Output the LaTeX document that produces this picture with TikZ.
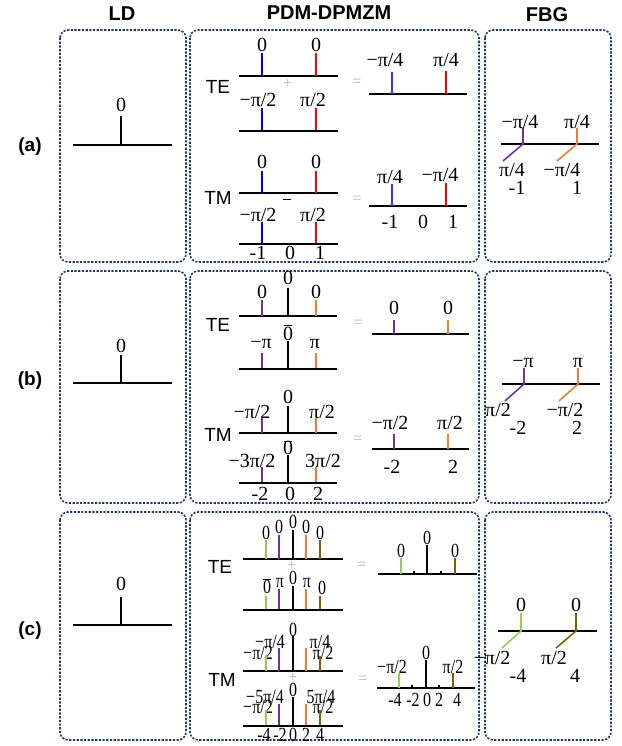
\documentclass[tikz,border=0pt]{standalone}
\usepackage{fontspec}
\setmainfont{Liberation Serif}
\newfontfamily\sansf{Liberation Sans}
\definecolor{cb}{RGB}{0,0,255}
\definecolor{cr}{RGB}{255,0,0}
\definecolor{cp}{RGB}{112,48,160}
\definecolor{co}{RGB}{237,125,49}
\definecolor{cg}{RGB}{146,208,80}
\definecolor{cn}{RGB}{127,96,0}
\definecolor{boxc}{RGB}{31,56,100}
\newcounter{lc}
\newcommand\lbl[3]{\stepcounter{lc}\node[lbl] (L\thelc) at (#1,#2+6.5) {#3};}
\newcommand\lblc[3]{\stepcounter{lc}\node[lbl] (L\thelc) at (#1,#2+6.5) {\scalebox{0.8}[1]{#3}};}
\newcommand\opn[3]{\stepcounter{lc}\node[opstyle] (L\thelc) at (#1,#2) {#3};}
\tikzset{
  panel/.style={draw=boxc, line width=1.6pt, dash pattern=on 2.2pt off 1.5pt, rounded corners=8pt},
  base/.style={line width=1.8pt, black},
  st/.style={line width=1.6pt},
  lbl/.style={font=\fontsize{20}{20}\selectfont, inner sep=0pt, anchor=base},
  opstyle/.style={font=\fontsize{16}{16}\selectfont, inner sep=0pt, text=gray!60},
  head/.style={font=\sansf\bfseries\fontsize{20}{20}\selectfont, inner sep=0pt},
  side/.style={font=\sansf\bfseries\fontsize{19}{19}\selectfont, inner sep=0pt},
  pol/.style={font=\sansf\fontsize{19}{19}\selectfont, inner sep=0pt},
}
\begin{document}
\begin{tikzpicture}[x=1pt,y=-1pt]
\useasboundingbox (0,0) rectangle (621,746);
% headers
\node[head] (hLD) at (122,14) {LD};
\node[head] (hPDM) at (329,13) {PDM-DPMZM};
\node[head] (hFBG) at (547,15) {FBG};
\node[side] (ra) at (30,147) {(a)};
\node[side] (rb) at (30,381) {(b)};
\node[side] (rc) at (30,631) {(c)};
% panels
\foreach \t/\b in {30/262,271/503,512/740}{
  \draw[panel] (60,\t) rectangle (186,\b);
  \draw[panel] (190,\t) rectangle (479,\b);
  \draw[panel] (485,\t) rectangle (611,\b);
}
% LD
\foreach \yb/\ys in {145/116,383/355,625/597}{
  \draw[base] (73,\yb) -- (172,\yb);
  \draw[st] (121,\ys) -- (121,\yb);
}
\lbl{121}{105}{0}\lbl{121}{346}{0}\lbl{121}{584}{0}
% ===== (a) TE
\node[pol] (aTE) at (218,87) {TE};
\draw[base] (239,76) -- (338,76);
\draw[st,cb] (262,53) -- (262,76);
\draw[st,cr] (316,53) -- (316,76);
\lbl{262}{45}{0}\lbl{316}{45}{0}
\opn{288}{84}{+}
\lbl{258}{100}{−π/2}\lbl{313}{100}{π/2}
\draw[st,cb] (262,108) -- (262,131);
\draw[st,cr] (316,108) -- (316,131);
\draw[base] (239,131) -- (338,131);
\opn{357}{83}{=}
\draw[base] (369,94) -- (467,94);
\draw[st,cb!80!white] (392,72) -- (392,94);
\draw[st,cr] (446,71) -- (446,94);
\lbl{385}{60}{−π/4}\lbl{446}{60}{π/4}
% ===== (a) TM
\node[pol] (aTM) at (218,198) {TM};
\draw[base] (239,193) -- (338,193);
\draw[st,cb] (262,171) -- (262,193);
\draw[st,cr] (316,171) -- (316,193);
\lbl{262}{162}{0}\lbl{316}{162}{0}
\draw[line width=1pt] (283,199) -- (291,199);
\lbl{258}{215}{−π/2}\lbl{313}{215}{π/2}
\draw[st,cb] (262,222) -- (262,244);
\draw[st,cr] (316,222) -- (316,244);
\draw[base] (239,244) -- (338,244);
\lbl{258}{253}{-1}\lbl{290}{253}{0}\lbl{320}{253}{1}
\opn{357}{200}{=}
\draw[base] (369,206) -- (467,206);
\draw[st,cb!80!white] (392,184) -- (392,206);
\draw[st,cr] (446,183) -- (446,206);
\lbl{390}{177}{π/4}\lbl{440}{175}{−π/4}
\lbl{390}{222}{-1}\lbl{423}{222}{0}\lbl{453}{222}{1}
% ===== (b) TE
\node[pol] (bTE) at (218,325) {TE};
\draw[base] (239,316) -- (337,316);
\draw[st,cp] (262,300) -- (262,316);
\draw[st] (288,288) -- (288,316);
\draw[st,co] (316,300) -- (316,316);
\lbl{262}{292}{0}\lbl{288}{278}{0}\lbl{316}{292}{0}
\draw[line width=1pt] (284,325) -- (292,325);
\lbl{288}{334}{0}
\lbl{261}{342}{−π}\lbl{315}{342}{π}
\draw[st,cp] (262,353) -- (262,369);
\draw[st] (288,341) -- (288,369);
\draw[st,co] (316,353) -- (316,369);
\draw[base] (239,369) -- (337,369);
\opn{358}{324}{=}
\draw[base] (372,334) -- (469,334);
\draw[st,cp] (394,320) -- (394,334);
\draw[st,co] (448,320) -- (448,334);
\lbl{394}{308}{0}\lbl{448}{308}{0}
% ===== (b) TM
\node[pol] (bTM) at (218,435) {TM};
\draw[base] (239,433) -- (337,433);
\lbl{252}{412}{−π/2}\lbl{288}{397}{0}\lbl{322}{412}{π/2}
\draw[st,cp] (262,418) -- (262,433);
\draw[st] (288,406) -- (288,433);
\draw[st,co] (316,418) -- (316,433);
\draw[line width=1pt] (284,441) -- (292,441);
\lbl{288}{448}{0}
\lbl{252}{461}{−3π/2}\lbl{323}{461}{3π/2}
\draw[st,cp] (262,467) -- (262,483);
\draw[st] (288,455) -- (288,483);
\draw[st,co] (316,467) -- (316,483);
\draw[base] (239,483) -- (337,483);
\lbl{260}{494}{-2}\lbl{290}{494}{0}\lbl{318}{494}{2}
\opn{358}{440}{=}
\draw[base] (372,449) -- (469,449);
\draw[st,cp] (394,434) -- (394,449);
\draw[st,co] (448,434) -- (448,449);
\lbl{390}{423}{−π/2}\lbl{450}{423}{π/2}
\lbl{392}{467}{-2}\lbl{453}{467}{2}
% ===== (c) TE
\node[pol] (cTE) at (220,567) {TE};
\draw[base] (243,559) -- (343,559);
\draw[st,cg] (266,540) -- (266,559);
\draw[st,cp] (279,535) -- (279,559);
\draw[st] (293,530) -- (293,559);
\draw[st,co] (306,535) -- (306,559);
\draw[st,cn] (320,540) -- (320,559);
\lblc{266}{533}{0}\lblc{279}{527}{0}\lblc{293}{522}{0}\lblc{306}{527}{0}\lblc{320}{533}{0}
\opn{292}{566}{+}
\draw[line width=1pt] (263,579) -- (271,579);
\lblc{267}{587}{0}\lblc{280}{581}{π}\lblc{293}{578}{0}\lblc{307}{581}{π}\lblc{322}{588}{0}
\draw[st,cg] (266,596) -- (266,610);
\draw[st,cp] (279,589) -- (279,610);
\draw[st] (293,586) -- (293,610);
\draw[st,co] (306,589) -- (306,610);
\draw[st,cn] (320,596) -- (320,610);
\draw[base] (243,610) -- (343,610);
\opn{362}{566}{=}
\draw[base] (378,574) -- (477,574);
\draw[st,cg] (401,558) -- (401,574);
\draw[st] (427,545) -- (427,574);
\draw[st,cn] (455,558) -- (455,574);
\draw[line width=1.2pt] (414,571) -- (414,574) (441,571) -- (441,574);
\lblc{401}{551}{0}\lblc{427}{538}{0}\lblc{455}{551}{0}
% ===== (c) TM
\node[pol] (cTM) at (222,680) {TM};
\draw[base] (243,671) -- (343,671);
\lblc{293}{630}{0}\lblc{270}{642}{−π/4}\lblc{320}{642}{π/4}\lblc{258}{653}{−π/2}\lblc{323}{653}{π/2}
\draw[st,cg] (266,655) -- (266,671);
\draw[st,cp] (279,648) -- (279,671);
\draw[st] (293,636) -- (293,671);
\draw[st,co] (306,648) -- (306,671);
\draw[st,cn] (320,656) -- (320,671);
\opn{293}{678}{+}
\lblc{293}{690}{0}\lblc{265}{697}{−5π/4}\lblc{321}{697}{5π/4}\lblc{258}{707}{−π/2}\lblc{323}{707}{π/2}
\draw[st,cg] (266,710) -- (266,726);
\draw[st,cp] (279,704) -- (279,726);
\draw[st] (293,697) -- (293,726);
\draw[st,co] (306,704) -- (306,726);
\draw[st,cn] (320,710) -- (320,726);
\draw[base] (243,726) -- (343,726);
\lblc{264}{735}{-4}\lblc{280}{735}{-2}\lblc{293}{735}{0}\lblc{306}{735}{2}\lblc{320}{735}{4}
\opn{363}{680}{=}
\draw[base] (377,688) -- (475,688);
\draw[st,cg] (399,673) -- (399,688);
\draw[st] (426,660) -- (426,688);
\draw[st,cn] (453,673) -- (453,688);
\draw[line width=1.2pt] (412,685) -- (412,688) (439,685) -- (439,688);
\lblc{392}{667}{−π/2}\lblc{426}{653}{0}\lblc{453}{667}{π/2}
\lblc{395}{700}{-4}\lblc{413}{700}{-2}\lblc{427}{700}{0}\lblc{439}{700}{2}\lblc{457}{700}{4}
% ===== FBG (a)
\draw[base] (501,144) -- (599,144);
\draw[st,cp] (523,128) -- (523,144) -- (503,161);
\draw[st,co] (577,128) -- (577,144) -- (557,161);
\lbl{520}{122}{−π/4}\lbl{577}{122}{π/4}
\lbl{512}{170}{π/4}\lbl{562}{170}{−π/4}
\lbl{517}{188}{-1}\lbl{577}{188}{1}
% ===== FBG (b)
\draw[base] (502,384) -- (600,384);
\draw[st,cp] (524,368) -- (524,384) -- (505,401);
\draw[st,co] (578,368) -- (578,384) -- (559,401);
\lbl{523}{361}{−π}\lbl{578}{361}{π}
\lbl{498}{410}{π/2}\lbl{565}{410}{−π/2}
\lbl{518}{428}{-2}\lbl{577}{428}{2}
% ===== FBG (c)
\draw[base] (498,631) -- (597,631);
\draw[st,cg] (521,613) -- (521,631) -- (502,648);
\draw[st,cn] (576,613) -- (576,631) -- (556,648);
\lbl{521}{605}{0}\lbl{576}{605}{0}
\lbl{492}{658}{−π/2}\lbl{554}{658}{π/2}
\lbl{518}{676}{-4}\lbl{575}{676}{4}
\end{tikzpicture}
\end{document}
